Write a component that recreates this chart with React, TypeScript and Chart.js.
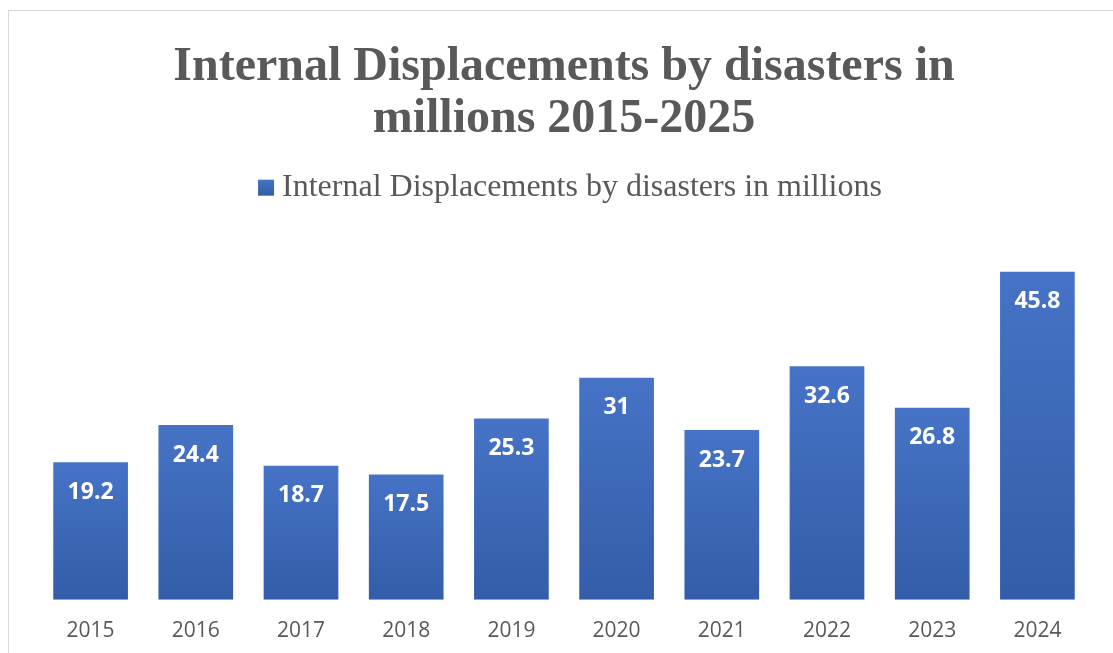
import React, { useEffect, useRef } from "react";
import { Chart, registerables } from "chart.js";

Chart.register(...registerables);

const categories = ["2015", "2016", "2017", "2018", "2019", "2020", "2021", "2022", "2023", "2024"];
const displacements = [19.2, 24.4, 18.7, 17.5, 25.3, 31, 23.7, 32.6, 26.8, 45.8];
const seriesName = "Internal Displacements by disasters in millions";
const titleLines = ["Internal Displacements by disasters in", "millions 2015-2025"];

const TEXT_COLOR = "#595959";
const BAR_TOP = "#4673C6";
const BAR_BOTTOM = "#335DA8";

const dataLabelPlugin = {
  id: "dataLabels",
  afterDatasetsDraw(chart: any) {
    const ctx = chart.ctx;
    const meta = chart.getDatasetMeta(0);
    ctx.save();
    ctx.fillStyle = "#ffffff";
    ctx.font = "bold 23px 'Open Sans'";
    ctx.textAlign = "center";
    ctx.textBaseline = "middle";
    meta.data.forEach((el: any, i: number) => {
      ctx.fillText(String(displacements[i]), el.x, el.y + 30);
    });
    ctx.restore();
  },
};

const legendSquarePlugin = {
  id: "legendSquare",
  afterDraw(chart: any) {
    const lg = chart.legend;
    if (!lg || !lg.legendHitBoxes || !lg.legendHitBoxes.length) return;
    const hb = lg.legendHitBoxes[0];
    const size = 16;
    const x = hb.left + 12;
    const y = hb.top + hb.height / 2 - size / 2;
    const ctx = chart.ctx;
    ctx.save();
    const g = ctx.createLinearGradient(0, y, 0, y + size);
    g.addColorStop(0, BAR_TOP);
    g.addColorStop(1, BAR_BOTTOM);
    ctx.fillStyle = g;
    ctx.fillRect(x, y, size, size);
    ctx.restore();
  },
};

export default function App() {
  const ref = useRef<HTMLCanvasElement>(null);
  useEffect(() => {
    if (!ref.current) return;
    const chart = new Chart(ref.current, {
      type: "bar",
      data: {
        labels: categories,
        datasets: [
          {
            label: seriesName,
            data: displacements,
            backgroundColor: (c: any) => {
              const ch = c.chart;
              const ys = ch.scales?.y;
              if (!ys || c.dataIndex === undefined) return BAR_TOP;
              const v = displacements[c.dataIndex];
              const top = ys.getPixelForValue(v);
              const bot = ys.getPixelForValue(0);
              if (!isFinite(top) || !isFinite(bot) || top === bot) return BAR_TOP;
              const g = ch.ctx.createLinearGradient(0, top, 0, bot);
              g.addColorStop(0, BAR_TOP);
              g.addColorStop(1, BAR_BOTTOM);
              return g;
            },
            borderWidth: 0,
            categoryPercentage: 0.71,
            barPercentage: 1,
          },
        ],
      },
      options: {
        animation: false,
        responsive: false,
        maintainAspectRatio: false,
        layout: { padding: { left: 38, right: 23, top: 0, bottom: 10 } },
        plugins: {
          title: {
            display: true,
            text: titleLines,
            color: TEXT_COLOR,
            font: { family: "'Liberation Serif'", size: 48, weight: "bold", lineHeight: 1.08 },
            padding: { top: 42, bottom: 16 },
          },
          legend: {
            display: true,
            labels: {
              color: TEXT_COLOR,
              font: { family: "'Liberation Serif'", size: 32 },
              boxWidth: 20,
              boxHeight: 8,
              padding: 10,
              generateLabels: () => [
                {
                  text: seriesName,
                  fillStyle: "rgba(0,0,0,0)",
                  strokeStyle: "rgba(0,0,0,0)",
                  fontColor: TEXT_COLOR,
                  lineWidth: 0,
                  hidden: false,
                  datasetIndex: 0,
                },
              ],
            },
          },
          tooltip: { enabled: false },
        },
        scales: {
          x: {
            grid: { display: false, drawTicks: false },
            border: { display: false },
            ticks: { color: TEXT_COLOR, font: { family: "'Open Sans'", size: 21 }, padding: 19 },
          },
          y: {
            display: false,
            min: 0,
            max: 53.9,
          },
        },
      },
      plugins: [dataLabelPlugin, legendSquarePlugin],
    });
    return () => chart.destroy();
  }, []);

  return (
    <div style={{ position: "fixed", left: 0, top: 0, width: 1113, height: 653, background: "#fff", overflow: "hidden" }}>
      <div
        style={{
          position: "absolute",
          left: 8,
          top: 10,
          width: 1130,
          height: 670,
          border: "1px solid #d9d9d9",
          boxSizing: "border-box",
        }}
      />
      <canvas ref={ref} width={1113} height={673} style={{ position: "absolute", left: 0, top: 0 }} />
    </div>
  );
}
